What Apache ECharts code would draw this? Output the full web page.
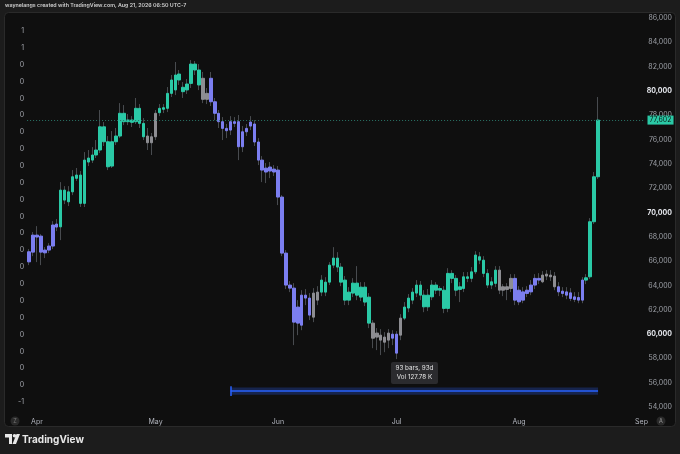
<!DOCTYPE html>
<html><head><meta charset="utf-8">
<script src="https://cdn.jsdelivr.net/npm/echarts@6/dist/echarts.min.js"></script>
<style>html,body{margin:0;padding:0;background:#1c1c1c;}#c{width:680px;height:454px;}</style>
</head><body><div id="c"></div>
<script>
// ---- data (daily candles from 2026-03-30 to 2026-08-21) ----
const startDay = '2026-03-30';
const dayCount = 156; // axis runs through Sep 1
const opens = [66770,68140,68140,68060,66910,67240,67240,69050,68820,71020,
70880,71700,72810,70750,70750,74150,74310,74730,75140,75820,
73760,73820,75820,76290,77470,77470,77420,77470,77330,76230,
76290,76230,76230,78210,78490,78570,79800,80080,80900,79940,
80080,80620,81720,81720,81040,79800,81040,79110,78160,77470,
76920,76780,77470,77470,76640,76920,77440,77280,75800,74310,
73650,73740,73570,73490,71270,66660,64030,63780,62220,60730,
63200,62960,61390,63450,63450,63450,64270,65670,66250,65510,
64440,62790,63370,63200,63860,63860,63040,60900,60080,59500,
59750,59500,59990,59990,59910,61310,62140,62790,63370,63200,
63200,62240,63060,63610,63610,63610,62110,64580,64580,63670,
63750,64580,64580,65120,66080,66080,64990,64030,64170,65260,
63890,63670,63750,64580,63610,62790,63610,63470,64030,64580,
64300,64770,64850,64770,63890,63530,63470,63390,63060,63010,
62790,64440,64710,69240,72940];
const closes = [65940,66740,67980,66740,66680,66910,68970,68800,71840,71840,
71700,72940,73080,73080,74310,74480,74730,75140,77050,77050,
75820,75820,76290,78160,78160,77610,77610,78570,78570,77330,
75740,75740,78160,78570,78620,79800,80900,81310,81390,80300,
80570,82210,82210,80490,79310,79310,79110,78160,77470,76920,
76730,77470,77330,75410,75410,76640,77110,75800,74310,73490,
73330,73410,73330,71270,66660,64030,63780,60980,60900,63200,
62960,61560,63370,62790,64440,64270,65670,66250,65510,64270,
62790,63450,64190,64190,63040,62630,60900,59660,59750,59910,
59330,60080,59660,58430,61310,62220,62960,63450,64030,64030,
62240,63200,64030,64030,63750,62110,64990,64990,63610,63890,
64710,64710,65120,66500,66360,64990,64030,64300,65260,63610,
63610,63890,64580,62790,62650,63470,63340,64030,64580,64440,
64850,64930,64710,63890,63470,63340,63200,62930,62850,62790,
64440,64630,69240,72940,77602];
const lows = [65670,66410,65920,65670,66250,66660,66990,68470,67730,70690,
70530,71430,72590,70450,70450,73820,74070,74480,74890,75470,
73490,73660,75550,76120,77190,77190,77030,77280,76950,75960,
75140,74730,75960,77930,78180,78260,79500,79660,80490,79420,
79750,80240,81310,80070,79000,78920,78760,77600,76950,75960,
76120,76370,77030,74310,74970,76290,76780,75470,73900,72500,
72420,72830,73000,70610,66410,63700,63450,59090,59910,60320,
62380,61150,60980,62380,63120,63120,64030,65420,65100,63940,
62380,62380,63040,62790,62710,62300,60490,58840,58680,58270,
58510,58840,59090,57940,59500,61150,61800,62460,63040,62790,
61800,61890,62790,63290,63120,61720,61800,64190,63120,62630,
63450,64270,64270,64930,65750,64680,63780,63700,63860,63290,
63120,62790,63450,62380,62380,62540,63040,63200,63700,64110,
64190,64440,64360,63610,63120,63040,62870,62710,62630,62540,
62540,64110,64520,69050,72750];
const highs = [66990,68390,68880,68220,67150,67480,69290,69460,72500,72170,
72170,73490,73660,73410,74970,75140,75380,75960,78430,77440,
76290,76700,76950,79000,78840,78100,77930,79420,78920,77770,
76950,76540,78430,78920,78920,80320,81310,82380,81720,80730,
80980,82540,82460,82210,81560,80240,81560,79420,78430,77850,
77280,77930,77850,78020,77110,77280,77930,77600,76120,74640,
74070,74150,73900,73820,71430,66910,64360,64190,62790,63610,
63700,63370,63780,63940,64850,64680,65920,67150,66740,65840,
64770,63860,64600,65590,64270,64270,63370,61150,60490,60410,
60160,60410,60320,60240,61640,62630,63290,63780,64440,64360,
63610,63700,64440,64270,63940,63940,65420,65260,64850,64270,
65100,65100,65510,66820,66740,66410,65340,64680,65590,65590,
64110,64190,64930,64930,63940,63860,63940,64440,64930,65010,
65180,65260,65260,65100,64270,63860,63860,63780,63450,63450,
64680,64930,69540,73330,79500];
// bar colouring runs: t = teal, p = purple, g = grey
const colorRuns = [['p',8],['t',22],['g',3],['t',11],['g',2],['p',26],['g',2],['t',13],['g',5],['p',2],['g',1],['t',24],['g',4],['p',7],['g',4],['p',7],['t',4]];
const leftTicks = ['1','1','0','0','0','0','0','0','0','0','0','0','0','0','0','0','0','0','0','0','0','0','-1'];
const monthNames = ['Jan','Feb','Mar','Apr','May','Jun','Jul','Aug','Sep','Oct','Nov','Dec'];
const lastPrice = 77602;
const measureStart = 51, measureEnd = 144, measureLevel = 55300;
const measureText = ['93 bars, 93d', 'Vol 127.78 K'];
const headerText = 'waynelangs created with TradingView.com, Aug 21, 2026 06:50 UTC-7';

// ---- build ----
const palette = { t: '#2ac9a6', p: '#7b7ef0', g: '#8d8d92' };
const wickColor = '#62656c';
const barColors = [];
colorRuns.forEach(([c, n]) => { for (let k = 0; k < n; k++) barColors.push(palette[c]); });
const t0 = Date.parse(startDay + 'T00:00:00Z');
const categories = [];
for (let i = 0; i < dayCount; i++) categories.push(new Date(t0 + i * 86400000).toISOString().slice(0, 10));
const fmt = v => v.toLocaleString('en-US');

const wickData = opens.map((o, i) => [lows[i], highs[i], lows[i], highs[i]]);
const bodyData = opens.map((o, i) => {
  const c = closes[i], col = barColors[i];
  return { value: [o, c, Math.min(o, c), Math.max(o, c)],
    itemStyle: { color: col, color0: col, borderColor: col, borderColor0: col } };
});

const chart = echarts.init(document.getElementById('c'), null, { renderer: 'canvas' });
const labelFont = 'Inter, "Noto Sans", sans-serif';
chart.setOption({
  backgroundColor: '#1c1c1c',
  animation: false,
  grid: [
    { left: 27.1, right: 36.5, top: 18, height: 389 },
    { left: 27.1, right: 36.5, top: 31, height: 371 }
  ],
  xAxis: [
    { type: 'category', gridIndex: 0, data: categories, boundaryGap: true,
      axisLine: { show: false }, axisTick: { show: false }, splitLine: { show: false },
      axisLabel: { interval: (idx, val) => val.slice(8) === '01', formatter: val => monthNames[+val.slice(5, 7) - 1],
        color: '#b2b5be', fontSize: 7, fontFamily: labelFont, margin: 11 } },
    { type: 'value', gridIndex: 1, min: 0, max: 1, show: false }
  ],
  yAxis: [
    { type: 'value', gridIndex: 0, position: 'right', min: 54000, max: 86000, interval: 2000,
      axisLine: { show: false }, axisTick: { show: false }, splitLine: { show: false },
      axisLabel: { align: 'right', margin: 28.5, fontFamily: labelFont, fontSize: 7,
        formatter: v => (v % 10000 === 0 ? '{b|' + fmt(v) + '}' : '{n|' + fmt(v) + '}'),
        rich: { b: { color: '#e6e8ee', fontWeight: 'bold', fontSize: 7, fontFamily: labelFont },
                n: { color: '#9ea1a8', fontSize: 7, fontFamily: labelFont } } } },
    { type: 'value', gridIndex: 1, position: 'left', min: 0, max: 22, interval: 1,
      axisLine: { show: false }, axisTick: { show: false }, splitLine: { show: false },
      axisLabel: { align: 'right', margin: 3, color: '#a3a6ad', fontSize: 7, fontFamily: labelFont,
        formatter: v => leftTicks[22 - v] } }
  ],
  graphic: [
    { type: 'rect', z: -10, shape: { x: 4.5, y: 12.5, width: 671, height: 414, r: 4 },
      style: { fill: '#0f0f0f', stroke: '#2a2a2a', lineWidth: 1 } },
    { type: 'text', x: 5, y: 5, style: { text: headerText, fill: '#d0d0d0', fontSize: 5.3, fontWeight: 600,
      fontFamily: labelFont, verticalAlign: 'middle' } },
    { type: 'circle', shape: { cx: 15, cy: 421, r: 4.5 }, style: { fill: '#2a2a2a' } },
    { type: 'text', x: 15, y: 421, style: { text: 'Z', fill: '#777', fontSize: 5.5, align: 'center', verticalAlign: 'middle', fontFamily: labelFont } },
    { type: 'circle', shape: { cx: 661, cy: 421, r: 4.5 }, style: { fill: '#2a2a2a' } },
    { type: 'text', x: 661, y: 421, style: { text: 'A', fill: '#9a9a9a', fontSize: 5.5, align: 'center', verticalAlign: 'middle', fontFamily: labelFont } },
    // TradingView logo
    { type: 'polygon', shape: { points: [[5,434],[12,434],[12,444],[9,444],[9,437.5],[5,437.5]] }, style: { fill: '#e8e8e8' } },
    { type: 'circle', shape: { cx: 14.5, cy: 435.8, r: 1.8 }, style: { fill: '#e8e8e8' } },
    { type: 'polygon', shape: { points: [[16.5,434],[20,434],[16,444],[12.5,444]] }, style: { fill: '#e8e8e8' } },
    { type: 'text', x: 22, y: 439.5, style: { text: 'TradingView', fill: '#e8e8e8', fontSize: 10, fontWeight: 'bold',
      fontFamily: labelFont, verticalAlign: 'middle' } },
    // measure info box
    { type: 'group', x: 391, y: 362, children: [
      { type: 'rect', shape: { x: 0, y: 0, width: 47, height: 22, r: 2 }, style: { fill: '#2b2b2e' } },
      { type: 'text', x: 23.5, y: 6.5, style: { text: measureText[0], fill: '#e6e6e6', fontSize: 6.3, align: 'center', verticalAlign: 'middle', fontFamily: labelFont } },
      { type: 'text', x: 23.5, y: 15.5, style: { text: measureText[1], fill: '#e6e6e6', fontSize: 6.3, align: 'center', verticalAlign: 'middle', fontFamily: labelFont } }
    ] }
  ],
  series: [
    { type: 'candlestick', name: 'wick', xAxisIndex: 0, yAxisIndex: 0, barWidth: 0.6, data: wickData,
      itemStyle: { color: wickColor, color0: wickColor, borderColor: wickColor, borderColor0: wickColor, borderWidth: 0.7 },
      markArea: { silent: true, itemStyle: { color: 'rgba(41,98,255,0.26)' },
        data: [[{ coord: [measureStart, measureLevel + 300] }, { coord: [measureEnd, measureLevel - 300] }]] },
      markLine: { silent: true, symbol: ['none', 'arrow'], symbolSize: [0, 6], animation: false,
        lineStyle: { color: '#2962ff', width: 1.5, type: 'solid' }, label: { show: false },
        data: [[{ coord: [measureStart, measureLevel] }, { coord: [measureEnd, measureLevel] }],
               [{ coord: [measureStart, measureLevel + 400], symbol: 'none' }, { coord: [measureStart, measureLevel - 400], symbol: 'none' }]] } },
    { type: 'candlestick', name: 'price', xAxisIndex: 0, yAxisIndex: 0, barWidth: 3, data: bodyData,
      markLine: { silent: true, symbol: 'none', animation: false,
        lineStyle: { color: '#2b7568', width: 1, type: [1, 2] },
        label: { show: true, position: 'end', distance: 4, formatter: () => fmt(lastPrice),
          backgroundColor: '#2ac9a6', color: '#0c1f1b', fontSize: 7, fontFamily: labelFont, padding: [1, 2] },
        data: [{ yAxis: lastPrice }] } }
  ]
});
</script></body></html>
